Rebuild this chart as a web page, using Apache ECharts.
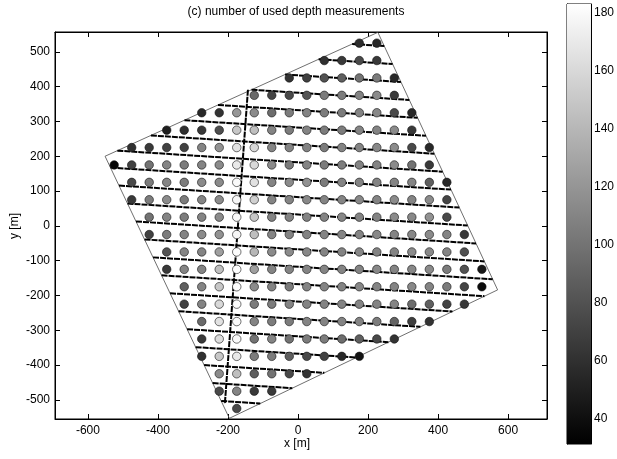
<!DOCTYPE html>
<html><head><meta charset="utf-8">
<script src="https://cdn.jsdelivr.net/npm/echarts@6/dist/echarts.min.js"></script>
<style>html,body{margin:0;padding:0;background:#fff}#c{width:617px;height:459px}</style>
</head><body><div id="c"></div>
<script>
const titleText = '(c) number of used depth measurements';
const xName = 'x [m]';
const yName = 'y [m]';
const xTicks = [-600, -400, -200, 0, 200, 400, 600];
const yTicks = [-500, -400, -300, -200, -100, 0, 100, 200, 300, 400, 500];
const cbTicks = [40, 60, 80, 100, 120, 140, 160, 180];
const cbRange = [31.4, 183];
const xRange = [-694, 711];
const yRange = [-555, 557];

// circle grid: row centre y, x of first circle in the row, values (step 50 m in x)
const gridY = [525, 475, 425, 375, 325, 275, 225, 175, 125, 75, 25, -25, -75, -125, -175, -225, -275, -325, -375, -425, -475, -525];
const gridFirstX = [175, 75, -25, -125, -275, -375, -475, -525, -475, -475, -425, -425, -375, -375, -325, -325, -275, -275, -275, -225, -225, -175];
const gridStep = 50;
const gridValues = [
  [58, 55],
  [60, 65, 75, 65],
  [62, 70, 80, 88, 100, 105, 55],
  [94, 72, 75, 82, 105, 105, 110, 114, 65],
  [55, 62, 121, 114, 96, 105, 110, 105, 105, 110, 112, 75, 55],
  [50, 60, 65, 78, 150, 145, 110, 105, 110, 105, 105, 110, 110, 114, 65],
  [60, 65, 70, 70, 110, 118, 165, 160, 110, 110, 110, 105, 110, 110, 112, 114, 75, 55],
  [35, 70, 100, 110, 105, 110, 114, 170, 160, 114, 105, 110, 105, 106, 110, 110, 114, 100, 65],
  [75, 105, 110, 105, 114, 114, 180, 165, 110, 114, 118, 105, 110, 110, 110, 110, 110, 88, 55],
  [65, 105, 114, 105, 110, 114, 178, 155, 110, 110, 112, 110, 110, 112, 110, 114, 110, 114, 72],
  [100, 110, 105, 110, 114, 180, 150, 110, 110, 110, 110, 112, 110, 110, 114, 112, 118, 75],
  [70, 105, 110, 114, 118, 178, 145, 110, 110, 110, 110, 110, 110, 112, 110, 112, 114, 110, 65],
  [80, 110, 110, 126, 182, 140, 114, 114, 112, 110, 110, 112, 110, 110, 114, 112, 110, 78],
  [65, 110, 110, 145, 182, 126, 110, 110, 110, 110, 110, 110, 112, 110, 112, 114, 105, 80, 45],
  [88, 110, 150, 182, 114, 110, 105, 110, 110, 110, 112, 110, 110, 112, 110, 105, 72, 38],
  [70, 110, 160, 182, 105, 105, 110, 110, 110, 110, 110, 110, 110, 96, 88, 72, 65],
  [94, 165, 180, 110, 105, 105, 110, 110, 110, 110, 105, 90, 68, 62],
  [65, 162, 180, 100, 110, 100, 105, 105, 96, 88, 75, 62],
  [60, 150, 170, 105, 105, 88, 75, 70, 55, 42],
  [114, 145, 88, 100, 75, 62],
  [75, 110, 65, 65],
  [75]
];

// survey area corners (top, right, bottom, left)
const surveyCorners = [[228, 556], [570, -184], [-196, -553], [-551, 200]];
// survey tracks: y = c + slope * x, clipped to survey area
const trackSlope = -0.065;
const trackIntercepts = [-517.5, -467.5, -417.5, -367.5, -317.5, -267.5, -217.5, -167.5, -117.5, -67.5, -17.5, 32.5, 82.5, 132.5, 182.5, 232.5, 282.5, 332.5, 382.5, 432.5, 482.5, 532.5];
const crossTrack = [[-143, 391], [-209, -512]];

const FONT = 'Liberation Sans, Arial, Helvetica, sans-serif';

function clipTrack(c) {
  const pts = [];
  for (let i = 0; i < surveyCorners.length; i++) {
    const A = surveyCorners[i], B = surveyCorners[(i + 1) % surveyCorners.length];
    const fA = A[1] - trackSlope * A[0] - c;
    const fB = B[1] - trackSlope * B[0] - c;
    if (fA * fB <= 0 && fA !== fB) {
      const t = fA / (fA - fB);
      pts.push([A[0] + t * (B[0] - A[0]), A[1] + t * (B[1] - A[1])]);
    }
  }
  pts.sort((a, b) => a[0] - b[0]);
  return pts.length >= 2 ? [pts[0], pts[pts.length - 1]] : [];
}

const scatterData = [];
gridY.forEach((y, r) => {
  gridValues[r].forEach((v, k) => {
    scatterData.push([gridFirstX[r] + k * gridStep, y, v]);
  });
});

const trackStyle = { color: '#000', width: 2, type: [6, 1] };
const series = [];
series.push({
  type: 'line', xAxisIndex: 0, yAxisIndex: 0, silent: true, symbol: 'none', z: 1,
  data: surveyCorners.concat([surveyCorners[0]]),
  lineStyle: { color: '#4a4a4a', width: 0.8 }
});
trackIntercepts.forEach(c => {
  series.push({
    type: 'line', xAxisIndex: 0, yAxisIndex: 0, silent: true, symbol: 'none', z: 2,
    data: clipTrack(c),
    lineStyle: trackStyle
  });
});
series.push({
  type: 'line', xAxisIndex: 0, yAxisIndex: 0, silent: true, symbol: 'none', z: 2,
  data: crossTrack,
  lineStyle: trackStyle
});
const scatterIndex = series.length;
series.push({
  type: 'scatter', xAxisIndex: 0, yAxisIndex: 0, z: 3,
  data: scatterData, symbol: 'circle', symbolSize: 8.5,
  itemStyle: { borderColor: '#111', borderWidth: 0.6, opacity: 1 }
});
series.push({
  type: 'custom', xAxisIndex: 2, yAxisIndex: 2, silent: true,
  data: [[0, cbRange[0]]],
  renderItem: (params, api) => {
    const p0 = api.coord([0, cbRange[0]]);
    const p1 = api.coord([1, cbRange[1]]);
    return {
      type: 'rect',
      shape: { x: p0[0], y: p1[1], width: p1[0] - p0[0], height: p0[1] - p1[1] },
      style: { fill: new echarts.graphic.LinearGradient(0, 1, 0, 0, [{ offset: 0, color: '#000' }, { offset: 1, color: '#fff' }]) }
    };
  }
});

const axisCommon = {
  axisLine: { show: true, onZero: false, lineStyle: { color: '#000', width: 1 } },
  splitLine: { show: false }
};

const chart = echarts.init(document.getElementById('c'), null, { renderer: 'canvas' });
chart.setOption({
  animation: false,
  backgroundColor: '#fff',
  grid: [
    { left: 55, top: 32, width: 492, height: 387, show: true, borderColor: '#000', borderWidth: 1, backgroundColor: '#fff' },
    { left: 567, top: 4, width: 24, height: 440, show: true, borderColor: '#000', borderWidth: 1 }
  ],
  xAxis: [
    Object.assign({}, axisCommon, { gridIndex: 0, type: 'value', min: xRange[0], max: xRange[1], position: 'bottom',
      axisTick: { inside: true, length: 5, customValues: xTicks, lineStyle: { color: '#000' } },
      axisLabel: { customValues: xTicks, fontSize: 12, color: '#000', fontFamily: FONT, margin: 6 } }),
    Object.assign({}, axisCommon, { gridIndex: 0, type: 'value', min: xRange[0], max: xRange[1], position: 'top',
      axisTick: { inside: true, length: 5, customValues: xTicks, lineStyle: { color: '#000' } },
      axisLabel: { show: false } }),
    { gridIndex: 1, type: 'value', min: 0, max: 1, show: false }
  ],
  yAxis: [
    Object.assign({}, axisCommon, { gridIndex: 0, type: 'value', min: yRange[0], max: yRange[1], position: 'left',
      axisTick: { inside: true, length: 5, customValues: yTicks, lineStyle: { color: '#000' } },
      axisLabel: { customValues: yTicks, fontSize: 12, color: '#000', fontFamily: FONT, margin: 5 } }),
    Object.assign({}, axisCommon, { gridIndex: 0, type: 'value', min: yRange[0], max: yRange[1], position: 'right',
      axisTick: { inside: true, length: 5, customValues: yTicks, lineStyle: { color: '#000' } },
      axisLabel: { show: false } }),
    Object.assign({}, axisCommon, { gridIndex: 1, type: 'value', min: cbRange[0], max: cbRange[1], position: 'right',
      axisTick: { inside: true, length: 4, customValues: cbTicks, lineStyle: { color: '#000' } },
      axisLabel: { customValues: cbTicks, fontSize: 12, color: '#000', fontFamily: FONT, margin: 3 } }),
    Object.assign({}, axisCommon, { gridIndex: 1, type: 'value', min: cbRange[0], max: cbRange[1], position: 'left',
      axisTick: { inside: true, length: 4, customValues: cbTicks, lineStyle: { color: '#000' } },
      axisLabel: { show: false } })
  ],
  visualMap: {
    type: 'continuous', show: false, min: cbRange[0], max: cbRange[1], dimension: 2,
    seriesIndex: scatterIndex, inRange: { color: ['#000000', '#ffffff'] }
  },
  graphic: [
    { type: 'text', x: 296, y: 12, style: { text: titleText, font: '12px ' + FONT, fill: '#000', align: 'center', verticalAlign: 'middle' } },
    { type: 'text', x: 297, y: 444, style: { text: xName, font: '12px ' + FONT, fill: '#000', align: 'center', verticalAlign: 'middle' } },
    { type: 'text', x: 15, y: 226, rotation: Math.PI / 2, style: { text: yName, font: '12px ' + FONT, fill: '#000', align: 'center', verticalAlign: 'middle' } }
  ],
  series: series
});
</script>
</body></html>
